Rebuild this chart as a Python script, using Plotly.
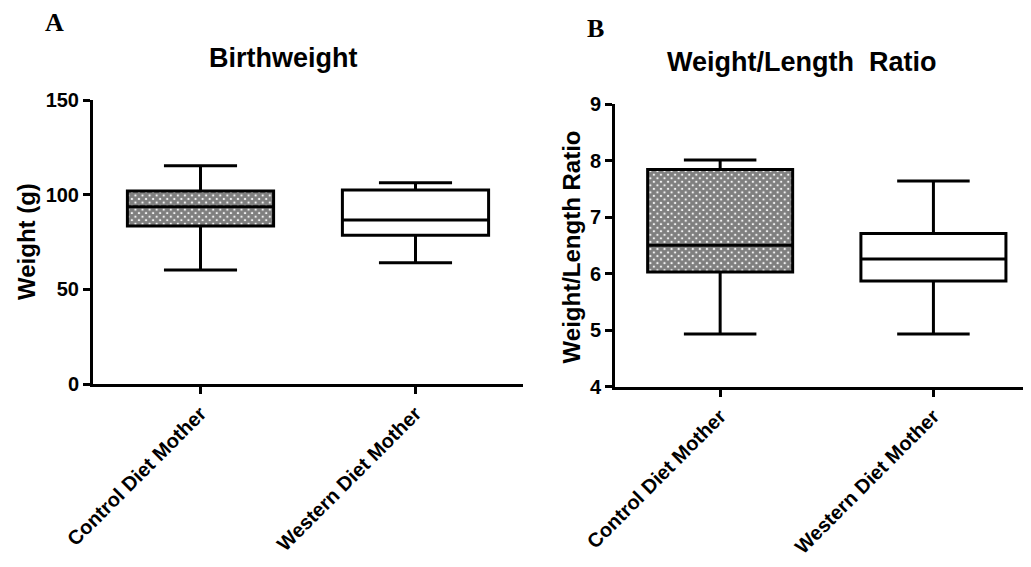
import plotly.graph_objects as go

W, H = 1015, 551   # page body adds an 8px margin around the figure
OFF = 8

categories = ["Control Diet Mother", "Western Diet Mother"]

# Panel A: Birthweight (g)
bw_min = [60.2, 64.1]
bw_q1 = [83.5, 78.5]
bw_median = [93.6, 86.6]
bw_q3 = [102.0, 102.5]
bw_max = [115.3, 106.3]

# Panel B: Weight/Length ratio
wl_min = [4.93, 4.93]
wl_q1 = [6.03, 5.87]
wl_median = [6.50, 6.26]
wl_q3 = [7.84, 6.71]
wl_max = [8.01, 7.64]

bw_ticks = [0, 50, 100, 150]
wl_ticks = [4, 5, 6, 7, 8, 9]

BOXW = 0.68
FONT = "Liberation Sans"


def px(x):
    return (x - OFF) / W


def py(y):
    return 1 - (y - OFF) / H


fig = go.Figure()


def add_panel(xa, ya, lo, q1, med, q3, hi):
    # patterned fill for the control box
    fig.add_trace(go.Bar(
        x=[categories[0]], base=[q1[0]], y=[q3[0] - q1[0]], width=BOXW,
        marker=dict(color="white", line=dict(width=0),
                    pattern=dict(shape="x", fgcolor="black", bgcolor="white",
                                 size=5, solidity=0.85)),
        xaxis=xa, yaxis=ya, showlegend=False, hoverinfo="skip"))
    fig.add_trace(go.Box(
        x=categories, q1=q1, median=med, q3=q3, lowerfence=lo, upperfence=hi,
        width=BOXW, whiskerwidth=0.5, boxpoints=False,
        fillcolor="rgba(0,0,0,0)", line=dict(color="black", width=3),
        xaxis=xa, yaxis=ya, showlegend=False))


add_panel("x", "y", bw_min, bw_q1, bw_median, bw_q3, bw_max)
add_panel("x2", "y2", wl_min, wl_q1, wl_median, wl_q3, wl_max)

tickfont = dict(family=FONT, size=20, color="black", weight="bold")
catfont = dict(family=FONT, size=20, color="black", weight="bold")

xcommon = dict(type="category", showline=True, linewidth=3, linecolor="black",
               ticks="outside", ticklen=7, tickwidth=3, tickcolor="black",
               tickangle=-45, tickfont=catfont, showgrid=False, zeroline=False,
               automargin=False, fixedrange=True)
ycommon = dict(showline=True, linewidth=3, linecolor="black", ticks="outside",
               ticklen=7, tickwidth=3, tickcolor="black", tickfont=tickfont,
               showgrid=False, zeroline=False, automargin=False)

fig.update_layout(
    width=W, height=H, margin=dict(l=0, r=0, t=0, b=0, autoexpand=False),
    paper_bgcolor="white", plot_bgcolor="white", barmode="overlay",
    xaxis=dict(domain=[px(93), px(523)], range=[-0.5, 1.5], anchor="y", **xcommon),
    yaxis=dict(domain=[py(384), py(100)], range=[0, 150], tickvals=bw_ticks,
               anchor="x", **ycommon),
    xaxis2=dict(domain=[px(615), 1.0], range=[-0.493, 1.42], anchor="y2", **xcommon),
    yaxis2=dict(domain=[py(386.7), py(104)], range=[4, 9], tickvals=wl_ticks,
                anchor="x2", **ycommon),
)

ann = [
    dict(text="Birthweight", x=283, y=58, size=27, font=FONT, angle=0),
    dict(text="Weight/Length\u00a0 Ratio", x=801.7, y=62, size=27, font=FONT, angle=0),
    dict(text="A", x=54, y=22, size=26, font="Liberation Serif", angle=0),
    dict(text="B", x=595, y=29, size=26, font="Liberation Serif", angle=0),
    dict(text="Weight (g)", x=26, y=242, size=24, font=FONT, angle=-90),
    dict(text="Weight/Length Ratio", x=571.7, y=246.7, size=24, font=FONT, angle=-90),
]
for a in ann:
    fig.add_annotation(text=a["text"], x=px(a["x"]), y=py(a["y"]), xref="paper", yref="paper",
                       xanchor="center", yanchor="middle", showarrow=False,
                       textangle=a["angle"],
                       font=dict(family=a["font"], size=a["size"], color="black", weight="bold"))

fig.write_html("out.html")
